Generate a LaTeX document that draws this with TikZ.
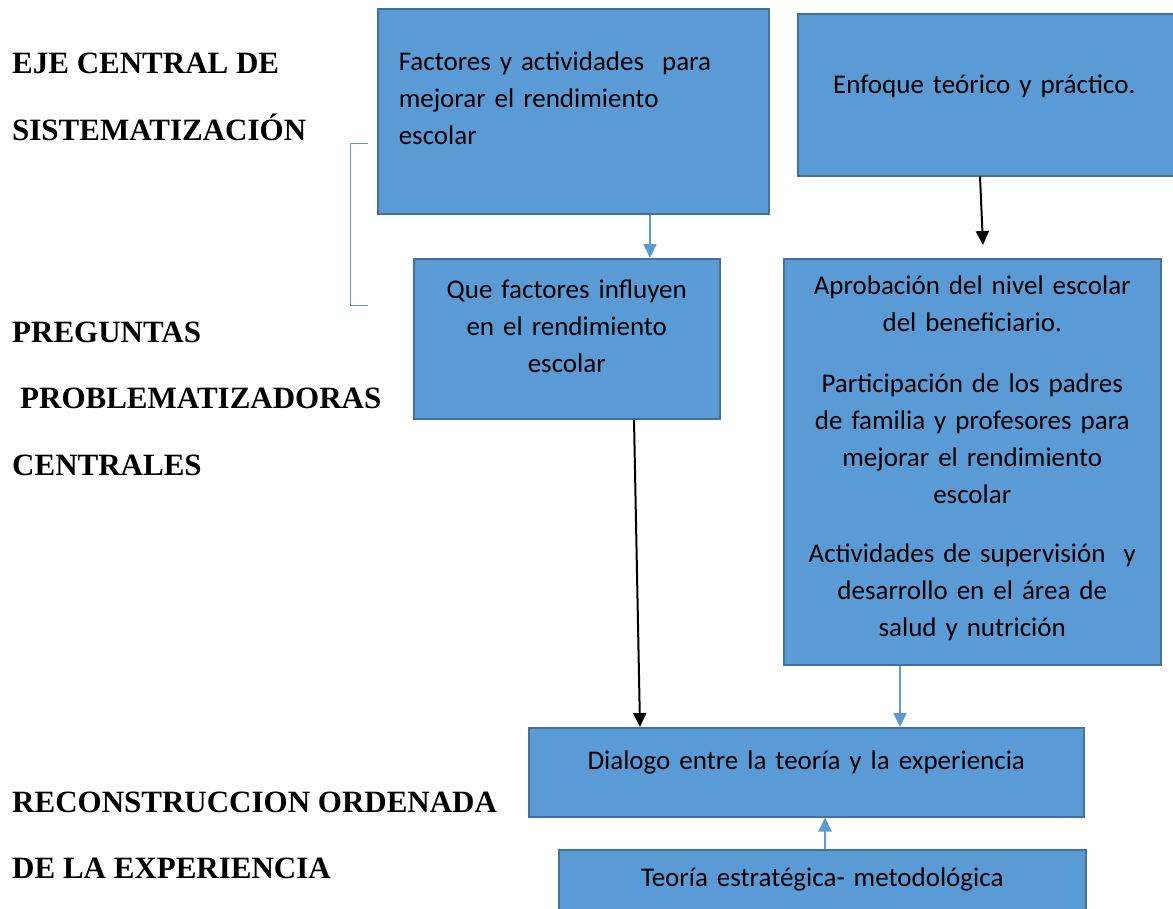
\documentclass[tikz,border=0pt]{standalone}
\usepackage{fontspec}
\setmainfont{Carlito}
\newfontfamily\titlefont{Liberation Serif}
\usetikzlibrary{arrows.meta}
\definecolor{boxfill}{HTML}{5B9BD5}
\definecolor{boxline}{HTML}{41719C}
\tikzset{
  blk/.style={draw=boxline, line width=1.5pt, fill=boxfill, anchor=north west,
    inner xsep=0pt, inner ysep=0pt, font=\fontsize{27}{37}\selectfont},
  eje/.style={anchor=base west, inner sep=0pt, font=\titlefont\bfseries\fontsize{31}{34}\selectfont},
  flecha/.style={-{Triangle[length=14pt,width=13pt]}, line width=2pt, black},
  flechaazul/.style={flecha, boxfill},
}
\begin{document}
\begin{tikzpicture}[x=1pt,y=-1pt]
  \useasboundingbox (0,0) rectangle (1173,908);
  % cajas
  \node[blk, text width=391pt, align=left, text height=62pt, text depth=143pt] (factores) at (377,8)
    {\hspace*{21pt}\parbox[t]{360pt}{Factores y actividades\ \ para\\ mejorar el rendimiento\\ escolar}};
  \node[blk, text width=390pt, align=center, text height=80pt, text depth=82pt] (enfoque) at (797,13)
    {\hspace*{-17pt}Enfoque teórico y práctico.};
  \node[blk, text width=306pt, align=center, text height=40pt, text depth=120pt] (preguntas) at (413,258)
    {Que factores influyen\\ en el rendimiento\\ escolar};
  \node[blk, text width=377pt, align=center, text height=36pt, text depth=370pt] (aprobacion) at (783,258)
    {Aprobación del nivel escolar\\ del beneficiario.\\[24pt]
     Participación de los padres\\ de familia y profesores para\\ mejorar el rendimiento\\ escolar\\[22pt]
     Actividades de supervisión\ \ y\\ desarrollo en el área de\\ salud y nutrición};
  \node[blk, text width=555pt, align=center, text height=42pt, text depth=47pt] (dialogo) at (528,727)
    {Dialogo entre la teoría y la experiencia};
  \node[blk, text width=527pt, align=center, text height=37pt, text depth=50pt] (teoria) at (558,849)
    {Teoría estratégica- metodológica};
  % textos de la izquierda
  \node[eje] (eje1) at (12,73) {EJE CENTRAL DE};
  \node[eje] (eje2) at (12,140) {SISTEMATIZACIÓN};
  \node[eje] (preg1) at (12,342) {PREGUNTAS};
  \node[eje] (preg2) at (20,408) {PROBLEMATIZADORAS};
  \node[eje] (preg3) at (12,475) {CENTRALES};
  \node[eje] (recon1) at (12,812) {RECONSTRUCCION ORDENADA};
  \node[eje] (recon2) at (12,878) {DE LA EXPERIENCIA};
  % llave
  \draw[boxfill, line width=1pt] (368,143) -- (350,143) -- (350,305) -- (368,305);
  % flechas
  \draw[flechaazul] (factores.south -| 650,0) -- (preguntas.north -| 650,0);
  \draw[flecha] (enfoque.south -| 980,0) -- (983,245);
  \draw[flecha] (preguntas.south -| 634,0) -- (dialogo.north -| 640,0);
  \draw[flechaazul] (aprobacion.south -| 900,0) -- (dialogo.north -| 900,0);
  \draw[flechaazul] (teoria.north -| 825,0) -- (dialogo.south -| 825,0);
\end{tikzpicture}
\end{document}
